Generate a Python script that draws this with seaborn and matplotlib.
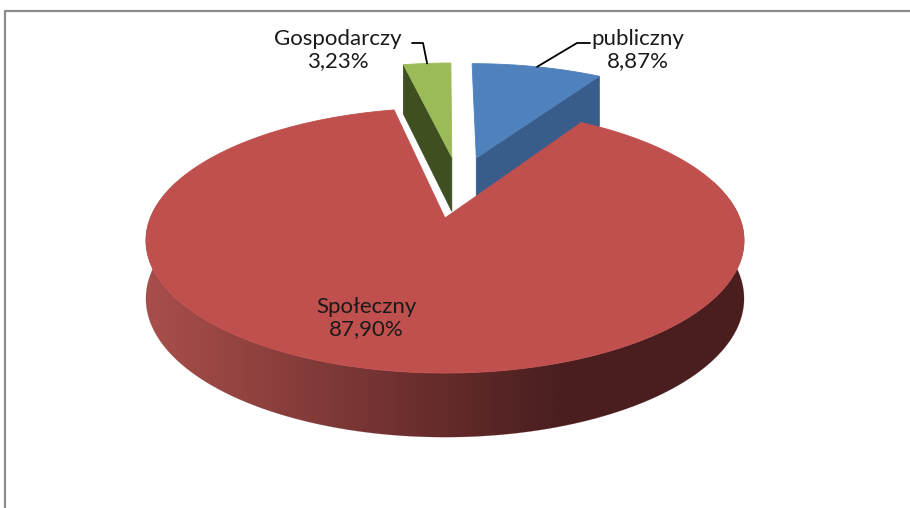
"""
Wykres kołowy 3D: udział sektorów
"""

import matplotlib
matplotlib.use("Agg")
import matplotlib.pyplot as plt
from matplotlib.colors import LinearSegmentedColormap, Normalize
from matplotlib.patches import Polygon
import numpy as np
import seaborn as sns

sns.set_theme(style="white")
plt.rcParams["font.family"] = ["Lato", "DejaVu Sans"]

# dane z wykresu
sektory = ["publiczny", "Społeczny", "Gospodarczy"]
udzialy = [8.87, 87.90, 3.23]
wysuniecie = [0.24, 0.28, 0.24]

kolory_gora = sns.color_palette(["#4F81BD", "#C0504D", "#9BBB59"])
kolory_bok = ["#385D8A", "#4A1E1F", "#3F4F22"]

# parametry rzutu (perspektywa)
CX, CY = 445, 218
SX, SY = 294.7, 128.7
P = 0.17
H, Q = 57, 0.63

frac = np.array(udzialy) / np.sum(udzialy)
ends = np.cumsum(frac) * 360
starts = ends - frac * 360
mids = (starts + ends) / 2


def kier(a):
    r = np.radians(a)
    return np.array([np.sin(r), np.cos(r)])


centra = [wysuniecie[i] * kier(mids[i]) for i in range(len(udzialy))]
kotwica = centra[1]


def rzut(pt, z=0.0):
    xr, yr = pt[0] - kotwica[0], pt[1] - kotwica[1]
    w = 1 + P * yr
    u = CX + SX * xr / w
    v = CY - SY * yr / w + z * H / w ** Q
    return u, v


fig = plt.figure(figsize=(9.1, 5.08), dpi=100)
ax = fig.add_axes([0, 0, 1, 1])

# gradient ściany bocznej (jaśniej z lewej, ciemniej z prawej)
gradient = LinearSegmentedColormap.from_list("bok", ["#A84E4A", "#4A1E1F"])

for i in [2, 0, 1]:
    c = centra[i]
    s, e = starts[i], ends[i]
    # ściana boczna (przednia część łuku)
    ts = np.linspace(s, e, 400)
    ts = ts[np.cos(np.radians(ts)) < 0.3]
    if len(ts) > 1:
        gora = [rzut(c + kier(t)) for t in ts]
        dol = [rzut(c + kier(t), 1) for t in ts[::-1]]
        sciana = Polygon(gora + dol, closed=True, fc="none", ec="none")
        ax.add_patch(sciana)
        xs = np.linspace(130, 760, 630)[None, :]
        im = ax.imshow(xs, extent=(130, 760, 460, 180), cmap=gradient,
                       norm=Normalize(150, 560), aspect="auto", interpolation="bilinear")
        im.set_clip_path(sciana)
        ax.add_patch(Polygon(gora + dol, closed=True, fc="none", ec="#6a2a2a", lw=0.3, alpha=0.4))
    # przekroje promieniowe
    for a, n in [(s, kier(s - 90)), (e, kier(e + 90))]:
        if n[1] < -1e-6:
            r = c + kier(a)
            quad = [rzut(c), rzut(r), rzut(r, 1), rzut(c, 1)]
            ax.add_patch(Polygon(quad, closed=True, fc=kolory_bok[i], ec=kolory_bok[i], lw=0.6))
    # wierzch
    top = [rzut(c)] + [rzut(c + kier(t)) for t in np.linspace(s, e, 200)]
    ax.add_patch(Polygon(top, closed=True, fc=kolory_gora[i], ec=kolory_gora[i], lw=0.6))

# etykiety
etykiety = [f"{n}\n{u:.2f}%".replace(".", ",") for n, u in zip(sektory, udzialy)]
pozycje = {0: (638, 50), 1: (366, 318), 2: (338, 50)}
lokcie = {0: [(590, 43), (577, 43)], 2: [(412, 43), (423, 43)]}
for i, txt in enumerate(etykiety):
    x, y = pozycje[i]
    ax.text(x, y, txt, ha="center", va="center", fontsize=16, color="#1a1a1a",
            linespacing=1.15)
    if i in lokcie:
        kon = rzut(centra[i] + kier(mids[i]))
        pts = np.array(lokcie[i] + [kon])
        ax.plot(pts[:, 0], pts[:, 1], color="black", lw=1.3)

# ramka
ax.plot([5, 5, 910], [508, 10.5, 10.5], color="#8c8c8c", lw=1.6, solid_capstyle="butt")

ax.set_xlim(0, 910)
ax.set_ylim(508, 0)
ax.axis("off")

fig.savefig("out.png", dpi=100)
